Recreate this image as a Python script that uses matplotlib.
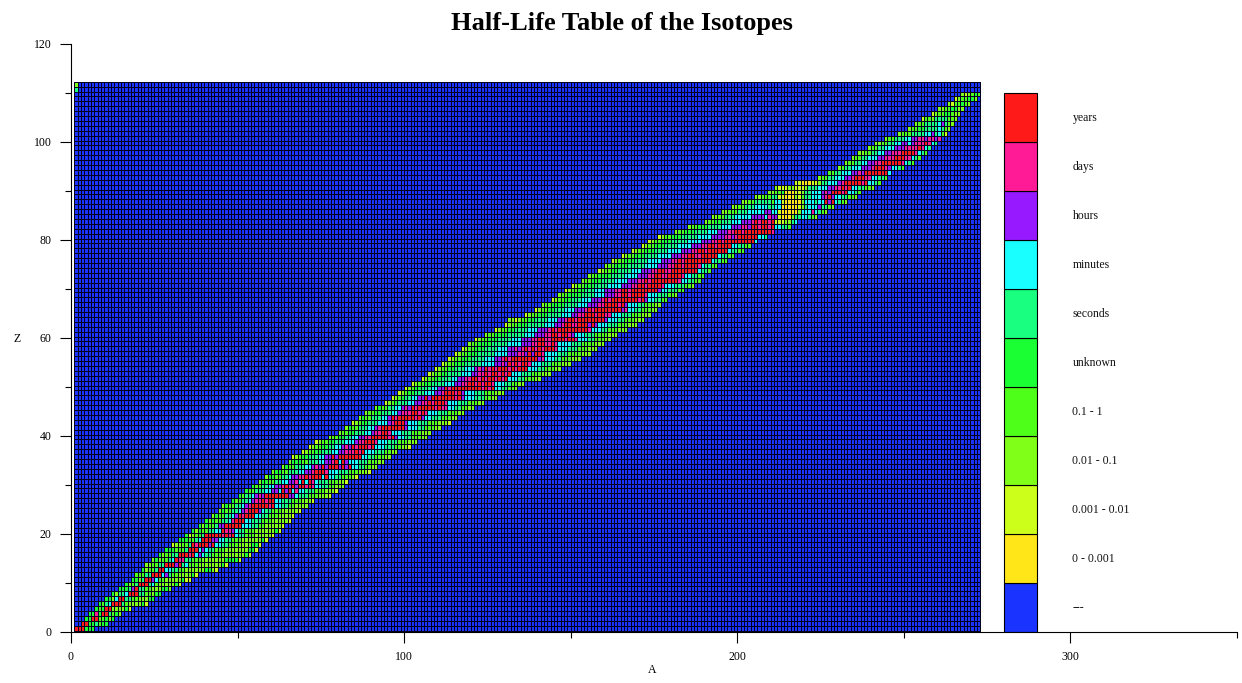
import numpy as np
import matplotlib
matplotlib.use('Agg')
import matplotlib.pyplot as plt
from matplotlib.colors import ListedColormap, BoundaryNorm

plt.rcParams['font.family'] = ['Liberation Serif', 'DejaVu Serif']

# Legend classes, bottom to top
class_labels = ['---', '0 - 0.001', '0.001 - 0.01', '0.01 - 0.1', '0.1 - 1', 'unknown',
                'seconds', 'minutes', 'hours', 'days', 'years']
class_colors = ['#1a33ff', '#ffe619', '#ccff19', '#80ff19', '#4dff19', '#19ff33',
                '#19ff80', '#19ffff', '#9619ff', '#ff1a96', '#ff1a1a']
class_codes = 'bYylgusc' + 'pmr'

# First mass number A of every Z row, Z = 1, 2, ...
first_a = [1, 3, 4, 5, 7, 8, 10, 12, 14, 16,
           18, 19, 21, 22, 24, 26, 28, 30, 32, 34,
           36, 38, 40, 42, 44, 45, 48, 50, 52, 54,
           56, 58, 60, 63, 65, 66, 69, 71, 73, 77,
           80, 82, 84, 86, 88, 91, 94, 96, 98, 100,
           102, 105, 107, 109, 111, 113, 115, 117, 119, 121,
           124, 127, 130, 131, 136, 139, 141, 144, 146, 148,
           150, 153, 155, 158, 160, 162, 165, 168, 171, 173,
           176, 181, 185, 190, 192, 195, 198, 201, 205, 209,
           211, 217, 224, 227, 230, 232, 234, 236, 239, 241,
           244, 248, 251, 253, 255, 258, 260, 263, 265, 267,
           1, 1]

# Half-life classes along each Z row, as class code + run length
z_runs = [
    'r3 u3',
    'r2 u2 s1 g1 u2',
    'u2 r2 g2 u1 l1 u1',
    'u2 m1 u1 r2 s1 g1 u1 l1',
    'u1 g1 u1 r2 l4 u1 y1',
    'u1 g1 s1 c1 r3 s1 g1 l4 u1 y1',
    'u2 l1 c1 r2 s2 g2 l3 u2',
    'u1 l1 s2 c1 r3 s2 g2 l1 u2',
    'u3 s1 p1 r1 s2 g2 l3 u2 l1',
    'u1 l1 g1 s1 r3 s1 c1 g1 l5 u1 y1',
    'u2 l1 s1 r2 p1 c1 g2 l5 u1 y2',
    'g3 s2 r3 c1 p1 s1 g2 l4 u1 y1',
    'u1 l1 g2 s1 r2 c2 s2 g2 l6 u2 l1 y1',
    'l2 g2 s2 r3 p1 r1 s1 c1 g3 l7 u1 y1',
    'l1 u1 l1 g2 s1 c1 r1 m2 s2 g3 l7 u4 y1',
    'u1 l1 g2 s2 r3 m1 r1 c1 p1 c1 s2 g3 l7 u1 y1',
    'u3 g3 s1 r3 c1 p1 c1 s2 g3 l7 u2 y1',
    'y1 l2 g2 s1 r1 m1 r3 p1 r1 c2 s2 g3 l4 u2 y1',
    'u3 g2 s1 c1 r3 p2 c2 s2 g3 l6 u1 y1',
    'u1 y1 l1 g2 s1 r5 m1 r1 m1 r1 c1 s2 g3 l5 y1',
    'u1 l1 u1 g2 s2 c2 r1 m2 p1 c1 s2 g3 l6 u1 y1',
    'u1 l1 u1 g2 s1 p2 r5 c3 s2 g2 l5 y1',
    'u1 l1 u1 g2 s2 c1 m1 r3 c2 s3 g3 l5 y1',
    'l1 u1 g2 s2 c1 p1 r1 m1 r3 c2 s2 g3 l4 y1',
    'l1 u1 g2 s2 c1 p1 m1 r3 p1 c1 s2 g3 l5 y1',
    'l1 u1 g2 s2 c1 p1 m1 r5 m1 r1 c2 s2 g2 l4',
    'u1 g2 s2 c1 p1 m1 m1 r1 m1 r2 c2 s3 g3 l3 y1',
    'u1 g1 s2 c1 p1 m1 p1 r7 p2 c1 s3 g3 l3 y1',
    'u1 g2 s3 c2 p1 p1 c1 r1 p1 r1 c1 m1 c2 s3 g3 l3 y1',
    'u1 g2 s2 c2 p1 p1 m1 r1 m1 r1 p1 r2 m1 r1 m1 c2 s2 g2 l3',
    'l1 u2 g2 s2 c2 p1 p1 m1 c1 r1 c1 r1 m1 c1 s3 g3 l2 y1',
    'l1 u2 g2 s2 c1 p2 m2 r1 m1 r3 c1 r1 c2 s2 g3 l1 y1',
    'l1 u2 g2 s3 c2 p1 p1 m1 r3 m1 c3 s3 g3 l3 y1',
    'l1 u1 g2 s3 c2 p1 m1 p1 r1 p1 r3 p1 r1 p1 r1 c2 s2 g2 l2',
    'l1 u3 g2 s3 c2 p2 m1 r1 c1 r1 p1 c3 s3 g3 l2',
    'y1 l1 g1 u2 s3 c2 p2 r1 p1 r7 c2 s2 g3 l2',
    'y1 l1 g2 u2 s3 c2 p2 m3 r1 m1 r1 c3 s3 g2 l2',
    'y1 l1 g2 u2 s2 c2 p1 m1 p1 r1 m1 r3 m1 r1 c3 s3 g2 l2 y1',
    'y1 l1 g2 u2 s3 c3 p1 m2 r3 m1 c3 s3 g3 l3',
    'l1 g2 u2 s2 c2 p2 m2 r5 m1 r1 p1 c2 s2 g3 l2',
    'l1 g2 u2 s3 c2 p1 m2 r2 m1 c3 s3 g3 l3',
    'l1 u1 g2 s3 c2 p1 m1 r7 p1 c3 s2 g3 l2',
    'y1 l1 g1 u2 s3 c3 p1 m1 r3 p1 c3 s3 g3 l3 y1',
    'l1 u1 g2 s3 c2 p1 r1 m1 r5 m1 r1 p1 c2 s3 g3 l2',
    'l1 g2 u2 s3 c2 p1 m3 r2 m1 r1 m1 c3 s3 g3 l2',
    'l1 u1 g2 s2 c2 p1 m1 p1 r1 m1 r5 m1 r1 m1 m1 c2 s2 g2 l2',
    'y1 l1 g1 u1 s3 c2 p1 p1 m2 r1 m1 r3 m1 c3 s3 g3 l2',
    'y1 l1 g1 u1 s2 c2 p1 p1 r1 p1 r7 m1 r1 p1 c3 s3 g2 l2',
    'y1 l1 g1 u2 s3 c3 p1 p1 m1 r3 m1 r1 p1 c3 s3 g3 l3',
    'y1 l1 g1 u2 s3 c2 p1 p1 r1 m1 r9 m1 r1 m1 r1 c2 s2 g2 l1',
    'y1 l1 g2 u2 s4 c3 p2 m2 r2 m1 r1 m1 r2 m1 c3 s2 g2 l2',
    'y1 l1 g2 u2 s3 c2 p2 m2 r2 m1 r1 m1 r2 m1 r1 m1 r1 c3 s2 g3 l2',
    'y1 l1 g2 u2 s4 c3 p1 p1 m2 r1 m1 r2 m1 r1 m1 r1 c3 s3 g3 l3',
    'y1 l1 g2 u2 s3 c3 p1 m1 p1 r1 m1 r1 m1 r3 m1 r1 m1 r3 c3 s2 g3 l2',
    'y1 l1 g2 u3 s5 c4 p1 p1 m1 p1 r1 m1 r1 m1 r2 m1 c3 s3 g3 l3',
    'y1 l1 g2 u3 s4 c3 p1 p1 m1 r1 m1 r8 p1 m1 c3 s2 g3 l3',
    'y1 l1 g2 u3 s5 c4 p1 p2 m2 p1 r1 p1 r2 m1 c4 s3 g4 l3',
    'y1 l1 g2 u3 s4 c3 p1 p1 m1 p1 m1 r1 m1 r1 m1 r1 m1 r3 m1 c3 s3 g3 l3',
    'l1 g2 u4 s5 c4 p1 p2 m2 r2 m2 r1 m1 c4 s3 g4 l3',
    'y1 l1 g2 u3 s4 c3 p1 p2 m2 r2 m2 r4 m1 r2 m1 c3 s2 g3 l2',
    'l1 g2 u4 s5 c3 p1 p2 m2 r2 m1 r2 m1 p1 c3 s3 g4 l3',
    'y1 l1 g2 u2 s4 c3 p1 p2 m1 r1 m1 r9 m1 c3 s2 g3 l3',
    'y1 l1 g2 u3 s5 c3 p1 p1 m1 r2 m2 r3 p1 r1 p1 c3 s3 g3 l3',
    'l2 y1 l1 g2 u2 s4 c3 p1 p1 m1 r2 m1 r8 p1 c3 s2 g3 l3',
    'y1 l1 g2 u3 s4 c3 p1 p1 m2 r3 m1 r2 m2 c3 s3 g3 l3',
    'y1 l1 g2 u2 s3 c3 p1 p2 m1 r1 m1 r8 p1 m1 c2 s2 g3 l2',
    'l1 g2 u4 s4 c3 p1 p2 m2 r4 m1 r1 p1 c3 s2 g3 l2',
    'y1 l1 g2 u2 s3 c3 p1 p2 m1 r1 m1 r8 m1 r1 p1 c2 s2 g2',
    'l1 g2 u4 s4 c3 p1 p2 m2 r2 m1 r4 m1 c3 s3 g2 l1',
    'y1 l1 g2 u2 s3 c3 p1 p2 m2 r2 m1 r8 p1 c2 s3 g2',
    'y1 l1 g2 u3 s4 c4 p1 p2 m2 r2 m1 r4 m1 c3 s3 g2 l1',
    'l1 g2 u3 s4 c4 p1 p2 m2 r1 m1 r8 m1 c2 s2 g2',
    'l1 g2 u4 s4 c4 p1 p2 m2 r2 m2 r4 m1 c2 s2 g2',
    'y1 l1 g2 u2 s4 c3 p1 p2 m2 r2 m2 r8 c1 s2 g1',
    'l1 g2 u4 s5 c4 p1 p2 m2 r2 m1 r4 m1 c1 s2 g2',
    'y1 l1 g2 u3 s4 c4 p1 p2 m2 r1 m1 r8 c1 s2 g2',
    'y1 l1 g2 u3 s4 c4 p1 p2 m2 r2 m2 r5 c1 s2 g2',
    'y1 l1 g2 u3 s4 c4 p1 p2 m2 r2 m1 r6 c1 s2 g2',
    'y1 l1 g2 u3 s4 c4 p1 p2 m2 r2 m1 r4 c2 s2 g2',
    'y1 l1 g2 u3 s5 c4 p1 p2 m2 r1 m1 r9 c1',
    'y1 l1 g2 u3 s5 c4 p1 p3 m2 p1 m1 r6 c2 s1',
    'l1 g2 u3 s4 c3 p1 p2 m2 r2 m1 r8 m1',
    'l1 g2 u3 s4 c3 p1 p2 m2 p1 r2 m1 r2 m1 r1 c2 s2 g1',
    'l1 g2 u2 s3 c3 p1 p2 m1 r1 m1 r2 m1 r1 y3 l2 s1 c1',
    'l2 g2 s3 c3 c2 p4 c1 m1 p2 y1 Y3 l1 s2 c2 s1 g1 l1',
    'l2 g3 s3 c2 c3 p2 c2 y1 Y5 l1 c3 m1 c1 s1 g1 l1',
    'l2 g2 s3 c1 c3 s2 c2 Y5 y1 l1 s1 c3 p1 s2 g1 l1',
    'l2 g2 s2 s3 g1 c2 y1 Y5 l1 c3 s1 c2 r1 p1 r1 c1 s1 g1 l1',
    'l2 g3 s2 y2 Y3 l1 y1 g1 s2 c3 p1 m1 r1 p1 c2 s2 g2 l1',
    'l2 g2 u1 Y3 y2 l1 s2 c3 p1 m1 p1 r3 m1 r1 c2 s1 g1',
    'l1 y3 l2 y3 l1 s3 c3 p2 m2 r1 m1 r1 c2 s2 g2 l1',
    'y2 Y3 y2 l1 s2 c3 p1 m1 r5 m1 r1 c2 s1 g1',
    'l1 g2 s2 c3 p2 m1 r3 m2 c2 s2 g1',
    'g2 s2 c1 c2 p2 m1 p1 r7 c1',
    'l1 g1 s2 c1 c2 p3 m1 r3 m1 p1 c2 s1 g1',
    'l1 g2 s2 c1 c1 p2 m2 r6 m1 c1 s1 g1',
    'l1 g2 s2 c1 c2 p2 m3 r3 m2 c1 s1 g1',
    'l2 g2 s2 c2 p2 m3 r4 m1 c1 s1 g1',
    'l1 g2 s2 c1 c2 p3 m1 m3 r1 m1 c1 s1',
    'l2 g2 s2 c2 p2 c1 p1 m3 r1 m1 c1 s1',
    'l1 g2 s3 c1 c1 p2 m2 p1 m2 p1 m1',
    'l1 g3 s4 c2 p1 s1 c1 g1 y1',
    'l1 g2 u2 s4 c1 s1 g1 l1',
    'l1 g2 s4 c1 p1 s1 g1 l1',
    'y1 g2 l1 s4 g2 l1',
    'y1 l1 g2 u2 g1 l2',
    'l2 g2 u2 l2',
    'l1 y1 g2 u1 g1 l1',
    'y1 l1 g2 u2 l1',
    'l1 y1 l1 g1 u1 g1',
    's1',
    'l1',
]

major_x = [0, 100, 200, 300]
major_y = [0, 20, 40, 60, 80, 100, 120]

# Build the table, rows are Z and columns are A
mass_numbers = np.arange(1, 273)
half_life = np.zeros((len(z_runs), len(mass_numbers)), dtype=int)
for row, (start, runs) in enumerate(zip(first_a, z_runs)):
    col = start - 1
    for run in runs.split():
        n = int(run[1:])
        half_life[row, col:col + n] = class_codes.index(run[0])
        col += n

fig = plt.figure(figsize=(12.42, 6.83), dpi=100)
ax = fig.add_axes([71 / 1242, 1 - 632 / 683, 1166 / 1242, 588 / 683])

cmap = ListedColormap(class_colors)
norm = BoundaryNorm(np.arange(len(class_colors) + 1) - 0.5, cmap.N)
# table starts a little above the axis line
x_edges = np.arange(1, 274)
y_edges = np.arange(0, len(z_runs) + 1) + 0.3
ax.pcolormesh(x_edges, y_edges, half_life, cmap=cmap, norm=norm,
              edgecolors='#000020', linewidth=0.72)

# Colour key sits inside the same axes
key_y = np.arange(len(class_labels)) * 10
ax.bar(np.full(len(key_y), 285), 10, width=10, bottom=key_y, color=class_colors,
       edgecolor='black', linewidth=0.8)
for y, label in zip(key_y, class_labels):
    ax.text(300.6, y + 4.85, label, fontsize=8.5, va='center', ha='left', color='#111111')

ax.set_xlim(0, 350)
ax.set_ylim(0, 120)
ax.set_xticks(major_x)
ax.set_yticks(major_y)
ax.set_xticks([50, 150, 250, 350], minor=True)
ax.set_yticks(np.arange(10, 120, 20), minor=True)
ax.tick_params(which='major', length=8, width=0.8, labelsize=8.5, pad=6)
ax.tick_params(which='minor', length=4, width=0.8)
ax.spines['top'].set_visible(False)
ax.spines['right'].set_visible(False)
for side in ('left', 'bottom'):
    ax.spines[side].set_linewidth(0.8)

fig.text(652 / 1242, 1 - 670 / 683, 'A', fontsize=8.5, ha='center', va='center')
fig.text(17 / 1242, 1 - 339 / 683, 'Z', fontsize=8.5, ha='center', va='center')
fig.text(622 / 1242, 1 - 23.5 / 683, 'Half-Life Table of the Isotopes', fontsize=19,
         fontweight='bold', ha='center', va='center')

fig.savefig('out.png', dpi=100)
